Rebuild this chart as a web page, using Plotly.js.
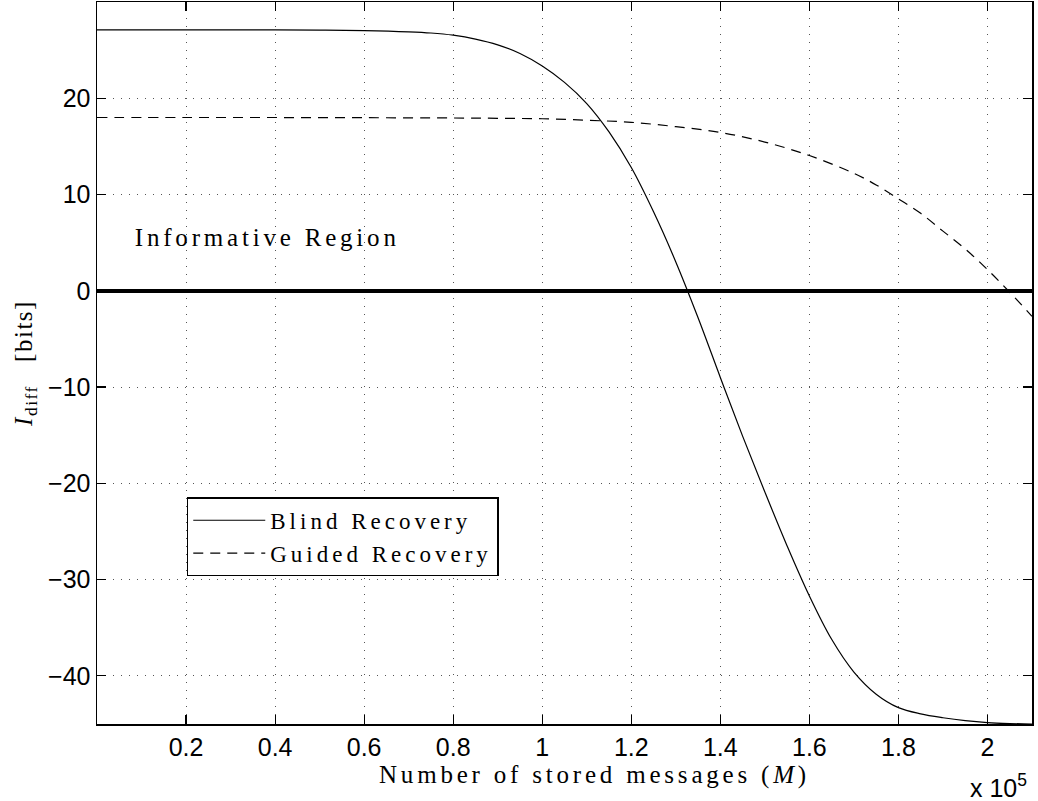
<!DOCTYPE html>
<html>
<head>
<meta charset="utf-8">
<script src="https://cdn.plot.ly/plotly-3.0.1.min.js"></script>
<style>
  html, body { margin: 0; padding: 0; background: #fff; }
  #chart { width: 1038px; height: 801px; }
  .legendtext { letter-spacing: 4px; }
  .annotation-text.spaced { letter-spacing: 3.8px; }
  .xtitle { letter-spacing: 3.8px; }
  .ytitle { letter-spacing: 1.5px; }
</style>
</head>
<body>
<div id="chart"></div>
<script>
// Number of stored messages (M)
const blindM = [0, 10000, 20000, 30000, 40000, 50000, 60000, 70000, 75000, 80000, 85000, 90000, 95000, 100000, 105000, 110000, 115000, 120000, 125000, 130000, 135000, 140000, 145000, 150000, 155000, 160000, 165000, 170000, 175000, 180000, 185000, 190000, 195000, 200000, 205000, 210000];
const blindI = [27.1, 27.1, 27.1, 27.1, 27.1, 27.08, 27.03, 26.9, 26.78, 26.55, 26.15, 25.55, 24.65, 23.35, 21.65, 19.45, 16.5, 12.8, 8.2, 3.0, -2.8, -9.0, -15.1, -20.9, -26.5, -31.7, -36.2, -39.6, -41.9, -43.3, -43.95, -44.35, -44.65, -44.85, -44.95, -45.0];

const guidedM = [0, 20000, 40000, 60000, 80000, 90000, 100000, 110000, 120000, 130000, 140000, 150000, 160000, 170000, 175000, 180000, 185000, 190000, 195000, 200000, 205000, 210000];
const guidedI = [18.0, 18.0, 18.0, 17.98, 17.95, 17.92, 17.87, 17.72, 17.5, 17.05, 16.45, 15.45, 14.05, 12.2, 11.0, 9.55, 8.05, 6.2, 4.35, 2.2, -0.15, -2.65];

const xTickVals = [20000, 40000, 60000, 80000, 100000, 120000, 140000, 160000, 180000, 200000];
const xTickText = ['0.2', '0.4', '0.6', '0.8', '1', '1.2', '1.4', '1.6', '1.8', '2'];
const yTickVals = [-40, -30, -20, -10, 0, 10, 20];
const yTickText = ['\u221240', '\u221230', '\u221220', '\u221210', '0', '10', '20'];

const seriesNames = ['Blind Recovery', 'Guided Recovery'];

const serif = 'Liberation Serif, DejaVu Serif, serif';
const sans = 'Liberation Sans, Arial, sans-serif';

const traces = [
  {
    x: blindM, y: blindI, name: seriesNames[0], type: 'scatter', mode: 'lines',
    line: { color: '#000', width: 1.2, shape: 'spline', smoothing: 1 }
  },
  {
    x: guidedM, y: guidedI, name: seriesNames[1], type: 'scatter', mode: 'lines',
    line: { color: '#000', width: 1.2, dash: '10px,7px', shape: 'spline', smoothing: 1 }
  }
];

const axisCommon = {
  showline: true, linecolor: '#000', linewidth: 1.5, mirror: 'ticks',
  ticks: 'inside', ticklen: 9, tickwidth: 1.2, tickcolor: '#000',
  showgrid: true, gridcolor: '#555', gridwidth: 1, griddash: '1px,7px',
  tickfont: { family: sans, size: 25, color: '#000' },
  tickmode: 'array'
};

const layout = {
  width: 1038, height: 801,
  margin: { l: 97, r: 6, t: 2, b: 77 },
  paper_bgcolor: '#fff', plot_bgcolor: '#fff',
  showlegend: true,
  legend: {
    x: 0.096, y: 0.314, xanchor: 'left', yanchor: 'top',
    bordercolor: '#000', borderwidth: 1.5, bgcolor: '#fff',
    font: { family: serif, size: 23, color: '#000' },
    itemwidth: 72, traceorder: 'normal'
  },
  xaxis: Object.assign({}, axisCommon, {
    range: [0, 210000], tickvals: xTickVals, ticktext: xTickText,
    zeroline: false,
    title: { text: 'Number of stored messages (<i>M</i>)', font: { family: serif, size: 25, color: '#000' }, standoff: 4 }
  }),
  yaxis: Object.assign({}, axisCommon, {
    range: [-45, 30], tickvals: yTickVals, ticktext: yTickText,
    zeroline: true, zerolinecolor: '#000', zerolinewidth: 3.5,
    title: { text: '<i>I</i><sub>diff</sub>\u00a0\u00a0\u00a0[bits]', font: { family: serif, size: 25, color: '#000' }, standoff: 8 }
  }),
  annotations: [
    {
      xref: 'x', yref: 'y', x: 38200, y: 5.5, xanchor: 'center', yanchor: 'middle',
      text: 'Informative Region', showarrow: false,
      font: { family: serif, size: 25, color: '#000' }
    },
    {
      xref: 'paper', yref: 'paper', x: 0.997, y: -0.086, xanchor: 'right', yanchor: 'middle',
      text: 'x 10<sup>5</sup>', showarrow: false,
      font: { family: sans, size: 25, color: '#000' }
    }
  ]
};

Plotly.newPlot('chart', traces, layout, { displayModeBar: false, staticPlot: true }).then(function () {
  document.querySelectorAll('.annotation-text').forEach(function (el) {
    if (el.textContent.indexOf('Informative') === 0) {
      el.classList.add('spaced');
    }
  });
  // the reference's x label sits a little right of the axis centre
  document.querySelectorAll('.xtitle').forEach(function (el) {
    el.setAttribute('x', parseFloat(el.getAttribute('x')) + 30);
  });
});
</script>
</body>
</html>
